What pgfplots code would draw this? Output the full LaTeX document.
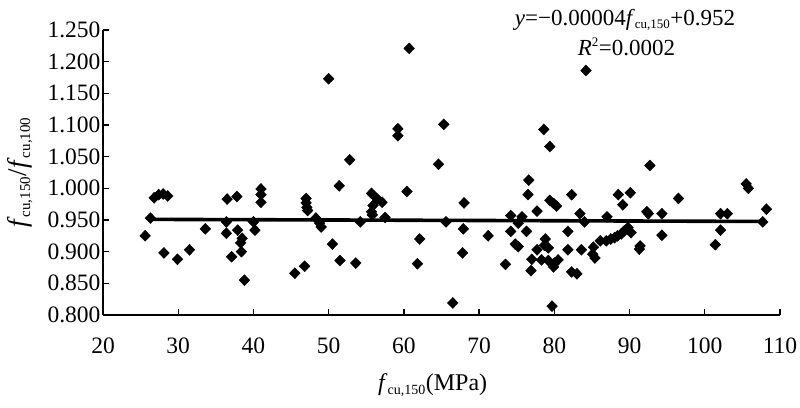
\documentclass[border=0pt]{standalone}
\usepackage{fontspec}
\setmainfont{Liberation Serif}
\usepackage{pgfplots}
\pgfplotsset{compat=1.18}
\begin{document}
\begin{tikzpicture}
\begin{axis}[
  name=ax,
  scale only axis,
  width=677pt, height=285pt,
  xmin=20, xmax=110, ymin=0.8, ymax=1.25,
  axis lines=left,
  axis line style={line width=1.6pt, -},
  xtick={20,30,...,110},
  ytick={0.8,0.85,...,1.26},
  tick align=inside,
  major tick length=6pt,
  tick style={line width=1.3pt, black},
  /pgf/number format/assume math mode=true,
  yticklabel style={/pgf/number format/fixed, /pgf/number format/fixed zerofill, /pgf/number format/precision=3, xshift=1pt},
  ticklabel style={font=\fontsize{23.5}{23.5}\selectfont},
  xticklabel style={yshift=-19pt},
  clip=false,
  xlabel={\fontsize{24}{24}\selectfont\textit{f}\textsubscript{\fontsize{14}{14}\selectfont cu,150}(MPa)},
  xlabel style={at={(axis description cs:0.487,-0.246)}, anchor=center},
  ylabel={\fontsize{27}{27}\selectfont\textit{f}\textsubscript{\fontsize{15}{15}\selectfont cu,150}/\textit{f}\textsubscript{\fontsize{15}{15}\selectfont cu,100}},
  ylabel style={at={(axis description cs:-0.1226,0.50)}, anchor=center},
]
\addplot[only marks, mark=diamond*, mark size=5.5pt, mark options={xscale=1.3, fill=black, draw=black}] coordinates {
(25.6,0.925) (26.3,0.953) (26.8,0.985) (27.4,0.990) (28.0,0.991) (28.6,0.988)
(28.1,0.898) (29.9,0.888) (31.5,0.903) (33.6,0.936)
(36.5,0.983) (37.8,0.987) (36.4,0.947) (36.4,0.929) (37.9,0.934) (38.3,0.914)
(38.5,0.921) (38.4,0.900) (37.1,0.892) (38.8,0.855) (40.2,0.934) (40.0,0.947)
(41.0,0.999) (41.0,0.990) (41.0,0.978)
(45.5,0.866) (46.8,0.877) (47.0,0.984) (47.0,0.977) (47.1,0.970) (47.2,0.965)
(48.3,0.953) (48.8,0.945) (49.0,0.939) (50.0,1.173) (50.5,0.912) (51.4,1.004)
(51.5,0.886) (52.8,1.045) (53.6,0.882) (54.2,0.947) (55.7,0.992) (56.4,0.984)
(57.1,0.978) (55.9,0.973) (55.7,0.963) (55.8,0.958) (57.5,0.954)
(59.2,1.094) (59.2,1.083) (60.7,1.221) (60.4,0.995) (62.1,0.920) (61.8,0.881)
(64.6,1.038) (65.3,1.101) (65.6,0.947) (66.5,0.819) (68.0,0.977) (67.9,0.936)
(67.8,0.898) (71.2,0.925)
(73.5,0.880) (74.2,0.932) (74.2,0.957) (75.7,0.955) (75.2,0.945) (76.3,0.932)
(74.8,0.912) (75.2,0.908) (76.6,1.013) (76.5,0.990) (77.7,0.964) (78.6,1.093)
(79.4,1.066) (79.4,0.981) (79.9,0.976) (80.3,0.972) (82.3,0.990) (78.8,0.920)
(78.7,0.910) (79.2,0.906) (77.7,0.903) (77.0,0.888) (78.3,0.887) (79.2,0.886)
(80.0,0.882) (80.5,0.887) (79.9,0.876) (76.9,0.870) (81.8,0.932) (81.8,0.903)
(83.6,0.903) (83.4,0.960) (84.0,0.947) (82.3,0.868) (83.0,0.865) (79.7,0.814)
(84.2,1.186)
(85.2,0.907) (85.1,0.896) (85.4,0.890) (86.1,0.917) (87.0,0.955) (86.9,0.917)
(87.5,0.920) (88.0,0.922) (88.4,0.925) (88.9,0.928) (89.3,0.933) (89.8,0.938)
(90.2,0.930) (88.5,0.990) (90.1,0.993) (89.1,0.974) (91.4,0.909) (91.3,0.904)
(92.3,0.963) (92.5,0.960) (92.7,1.036) (94.3,0.960) (94.3,0.926) (96.5,0.984)
(102.1,0.960) (103.0,0.960) (102.1,0.934) (101.4,0.911) (105.5,1.007) (105.8,1.000)
(108.2,0.967) (107.7,0.947)
};
\addplot[black, line width=3.6pt] coordinates {(26.3,0.9510) (107.7,0.9477)};
\node[anchor=center, font=\fontsize{23}{23}\selectfont] at (axis cs:89.4,1.266)
  {\textit{y}=−0.00004\textit{f}\textsubscript{\fontsize{13}{13}\selectfont cu,150}+0.952};
\node[anchor=center, font=\fontsize{23}{23}\selectfont] at (axis cs:89.6,1.224)
  {\textit{R}\textsuperscript{\fontsize{13}{13}\selectfont 2}=0.0002};
\end{axis}
\pgfresetboundingbox
\path[use as bounding box] ([shift={(-103pt,-92pt)}]ax.south west) rectangle ([shift={(20pt,30pt)}]ax.north east);
\end{tikzpicture}
\end{document}
